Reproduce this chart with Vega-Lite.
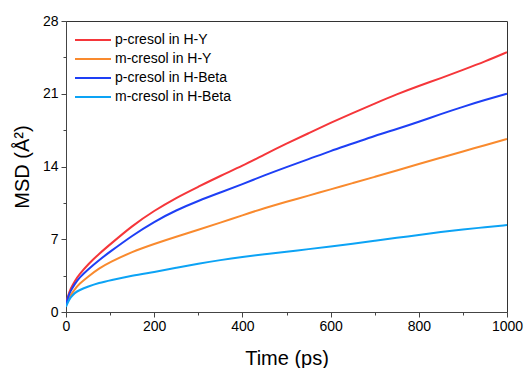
{
  "$schema": "https://vega.github.io/schema/vega-lite/v6.json",
  "width": 441,
  "height": 291,
  "autosize": "none",
  "padding": {"left": 66, "top": 21, "right": 19, "bottom": 56},
  "background": "white",
  "config": {
    "view": {"stroke": "#333", "strokeWidth": 1},
    "font": "Liberation Sans",
    "axis": {
      "labelFont": "Liberation Sans",
      "titleFont": "Liberation Sans",
      "labelFontSize": 14,
      "titleFontSize": 20,
      "titleFontWeight": "normal",
      "labelColor": "black",
      "titleColor": "black",
      "domainColor": "#444",
      "tickColor": "#444",
      "grid": false
    }
  },
  "data": {
    "values": [
      {"t": 0, "msd": 0.8, "s": "p-cresol in H-Y"},
      {"t": 5, "msd": 1.6, "s": "p-cresol in H-Y"},
      {"t": 10, "msd": 2.2, "s": "p-cresol in H-Y"},
      {"t": 20, "msd": 3.0, "s": "p-cresol in H-Y"},
      {"t": 30, "msd": 3.6, "s": "p-cresol in H-Y"},
      {"t": 50, "msd": 4.6, "s": "p-cresol in H-Y"},
      {"t": 75, "msd": 5.6, "s": "p-cresol in H-Y"},
      {"t": 100, "msd": 6.5, "s": "p-cresol in H-Y"},
      {"t": 150, "msd": 8.3, "s": "p-cresol in H-Y"},
      {"t": 200, "msd": 9.75, "s": "p-cresol in H-Y"},
      {"t": 250, "msd": 11.0, "s": "p-cresol in H-Y"},
      {"t": 300, "msd": 12.05, "s": "p-cresol in H-Y"},
      {"t": 350, "msd": 13.1, "s": "p-cresol in H-Y"},
      {"t": 400, "msd": 14.05, "s": "p-cresol in H-Y"},
      {"t": 450, "msd": 15.15, "s": "p-cresol in H-Y"},
      {"t": 500, "msd": 16.2, "s": "p-cresol in H-Y"},
      {"t": 550, "msd": 17.2, "s": "p-cresol in H-Y"},
      {"t": 600, "msd": 18.2, "s": "p-cresol in H-Y"},
      {"t": 650, "msd": 19.15, "s": "p-cresol in H-Y"},
      {"t": 700, "msd": 20.05, "s": "p-cresol in H-Y"},
      {"t": 750, "msd": 20.95, "s": "p-cresol in H-Y"},
      {"t": 800, "msd": 21.75, "s": "p-cresol in H-Y"},
      {"t": 850, "msd": 22.5, "s": "p-cresol in H-Y"},
      {"t": 900, "msd": 23.3, "s": "p-cresol in H-Y"},
      {"t": 950, "msd": 24.1, "s": "p-cresol in H-Y"},
      {"t": 1000, "msd": 25.0, "s": "p-cresol in H-Y"},
      {"t": 0, "msd": 0.6, "s": "m-cresol in H-Y"},
      {"t": 5, "msd": 1.2, "s": "m-cresol in H-Y"},
      {"t": 10, "msd": 1.6, "s": "m-cresol in H-Y"},
      {"t": 20, "msd": 2.2, "s": "m-cresol in H-Y"},
      {"t": 30, "msd": 2.7, "s": "m-cresol in H-Y"},
      {"t": 50, "msd": 3.4, "s": "m-cresol in H-Y"},
      {"t": 75, "msd": 4.2, "s": "m-cresol in H-Y"},
      {"t": 100, "msd": 4.8, "s": "m-cresol in H-Y"},
      {"t": 150, "msd": 5.8, "s": "m-cresol in H-Y"},
      {"t": 200, "msd": 6.55, "s": "m-cresol in H-Y"},
      {"t": 250, "msd": 7.25, "s": "m-cresol in H-Y"},
      {"t": 300, "msd": 7.9, "s": "m-cresol in H-Y"},
      {"t": 350, "msd": 8.6, "s": "m-cresol in H-Y"},
      {"t": 400, "msd": 9.3, "s": "m-cresol in H-Y"},
      {"t": 450, "msd": 10.0, "s": "m-cresol in H-Y"},
      {"t": 500, "msd": 10.6, "s": "m-cresol in H-Y"},
      {"t": 550, "msd": 11.2, "s": "m-cresol in H-Y"},
      {"t": 600, "msd": 11.8, "s": "m-cresol in H-Y"},
      {"t": 650, "msd": 12.4, "s": "m-cresol in H-Y"},
      {"t": 700, "msd": 13.0, "s": "m-cresol in H-Y"},
      {"t": 750, "msd": 13.6, "s": "m-cresol in H-Y"},
      {"t": 800, "msd": 14.25, "s": "m-cresol in H-Y"},
      {"t": 850, "msd": 14.85, "s": "m-cresol in H-Y"},
      {"t": 900, "msd": 15.45, "s": "m-cresol in H-Y"},
      {"t": 950, "msd": 16.05, "s": "m-cresol in H-Y"},
      {"t": 1000, "msd": 16.65, "s": "m-cresol in H-Y"},
      {"t": 0, "msd": 0.7, "s": "p-cresol in H-Beta"},
      {"t": 5, "msd": 1.5, "s": "p-cresol in H-Beta"},
      {"t": 10, "msd": 2.0, "s": "p-cresol in H-Beta"},
      {"t": 20, "msd": 2.7, "s": "p-cresol in H-Beta"},
      {"t": 30, "msd": 3.3, "s": "p-cresol in H-Beta"},
      {"t": 50, "msd": 4.1, "s": "p-cresol in H-Beta"},
      {"t": 75, "msd": 5.0, "s": "p-cresol in H-Beta"},
      {"t": 100, "msd": 5.8, "s": "p-cresol in H-Beta"},
      {"t": 150, "msd": 7.35, "s": "p-cresol in H-Beta"},
      {"t": 200, "msd": 8.7, "s": "p-cresol in H-Beta"},
      {"t": 250, "msd": 9.8, "s": "p-cresol in H-Beta"},
      {"t": 300, "msd": 10.7, "s": "p-cresol in H-Beta"},
      {"t": 350, "msd": 11.5, "s": "p-cresol in H-Beta"},
      {"t": 400, "msd": 12.3, "s": "p-cresol in H-Beta"},
      {"t": 450, "msd": 13.15, "s": "p-cresol in H-Beta"},
      {"t": 500, "msd": 13.95, "s": "p-cresol in H-Beta"},
      {"t": 550, "msd": 14.7, "s": "p-cresol in H-Beta"},
      {"t": 600, "msd": 15.5, "s": "p-cresol in H-Beta"},
      {"t": 650, "msd": 16.2, "s": "p-cresol in H-Beta"},
      {"t": 700, "msd": 16.95, "s": "p-cresol in H-Beta"},
      {"t": 750, "msd": 17.6, "s": "p-cresol in H-Beta"},
      {"t": 800, "msd": 18.3, "s": "p-cresol in H-Beta"},
      {"t": 850, "msd": 19.05, "s": "p-cresol in H-Beta"},
      {"t": 900, "msd": 19.75, "s": "p-cresol in H-Beta"},
      {"t": 950, "msd": 20.4, "s": "p-cresol in H-Beta"},
      {"t": 1000, "msd": 21.0, "s": "p-cresol in H-Beta"},
      {"t": 0, "msd": 0.5, "s": "m-cresol in H-Beta"},
      {"t": 5, "msd": 1.0, "s": "m-cresol in H-Beta"},
      {"t": 10, "msd": 1.4, "s": "m-cresol in H-Beta"},
      {"t": 20, "msd": 1.85, "s": "m-cresol in H-Beta"},
      {"t": 30, "msd": 2.1, "s": "m-cresol in H-Beta"},
      {"t": 50, "msd": 2.45, "s": "m-cresol in H-Beta"},
      {"t": 75, "msd": 2.8, "s": "m-cresol in H-Beta"},
      {"t": 100, "msd": 3.05, "s": "m-cresol in H-Beta"},
      {"t": 150, "msd": 3.5, "s": "m-cresol in H-Beta"},
      {"t": 200, "msd": 3.85, "s": "m-cresol in H-Beta"},
      {"t": 250, "msd": 4.25, "s": "m-cresol in H-Beta"},
      {"t": 300, "msd": 4.65, "s": "m-cresol in H-Beta"},
      {"t": 350, "msd": 5.0, "s": "m-cresol in H-Beta"},
      {"t": 400, "msd": 5.3, "s": "m-cresol in H-Beta"},
      {"t": 450, "msd": 5.55, "s": "m-cresol in H-Beta"},
      {"t": 500, "msd": 5.8, "s": "m-cresol in H-Beta"},
      {"t": 550, "msd": 6.05, "s": "m-cresol in H-Beta"},
      {"t": 600, "msd": 6.3, "s": "m-cresol in H-Beta"},
      {"t": 650, "msd": 6.55, "s": "m-cresol in H-Beta"},
      {"t": 700, "msd": 6.85, "s": "m-cresol in H-Beta"},
      {"t": 750, "msd": 7.15, "s": "m-cresol in H-Beta"},
      {"t": 800, "msd": 7.4, "s": "m-cresol in H-Beta"},
      {"t": 850, "msd": 7.7, "s": "m-cresol in H-Beta"},
      {"t": 900, "msd": 7.95, "s": "m-cresol in H-Beta"},
      {"t": 950, "msd": 8.15, "s": "m-cresol in H-Beta"},
      {"t": 1000, "msd": 8.37, "s": "m-cresol in H-Beta"}
    ]
  },
  "mark": {"type": "line", "strokeWidth": 2, "interpolate": "basis", "clip": true},
  "encoding": {
    "x": {
      "field": "t",
      "type": "quantitative",
      "scale": {"domain": [0, 1000], "nice": false, "zero": true},
      "axis": {
        "title": "Time (ps)",
        "format": "d",
        "values": [0, 100, 200, 300, 400, 500, 600, 700, 800, 900, 1000],
        "labelExpr": "datum.value % 200 === 0 ? datum.label : ''",
        "tickSize": {"condition": {"test": "datum.value % 200 === 0", "value": 5}, "value": 3},
        "labelPadding": 2,
        "titlePadding": 15,
        "labelFlush": false
      }
    },
    "y": {
      "field": "msd",
      "type": "quantitative",
      "scale": {"domain": [0, 28], "nice": false},
      "axis": {
        "title": "MSD (Å²)",
        "values": [0, 3.5, 7, 10.5, 14, 17.5, 21, 24.5, 28],
        "labelExpr": "datum.value % 7 === 0 ? datum.label : ''",
        "tickSize": {"condition": {"test": "datum.value % 7 === 0", "value": 5}, "value": 3},
        "labelPadding": 3,
        "titlePadding": 10,
        "labelFlush": false
      }
    },
    "color": {
      "field": "s",
      "type": "nominal",
      "sort": ["p-cresol in H-Y", "m-cresol in H-Y", "p-cresol in H-Beta", "m-cresol in H-Beta"],
      "scale": {
        "domain": ["p-cresol in H-Y", "m-cresol in H-Y", "p-cresol in H-Beta", "m-cresol in H-Beta"],
        "range": ["#f5363a", "#f98a2e", "#1e3ff5", "#0ca3f5"]
      },
      "legend": {
        "title": null,
        "orient": "none",
        "legendX": 8,
        "legendY": 12,
        "padding": 0,
        "symbolType": "M-1,0H5",
        "symbolSize": 144,
        "symbolStrokeWidth": 2,
        "labelOffset": 27,
        "labelFont": "Liberation Sans",
        "labelFontSize": 14,
        "labelColor": "black",
        "rowPadding": 5,
        "labelLimit": 300
      }
    }
  }
}
